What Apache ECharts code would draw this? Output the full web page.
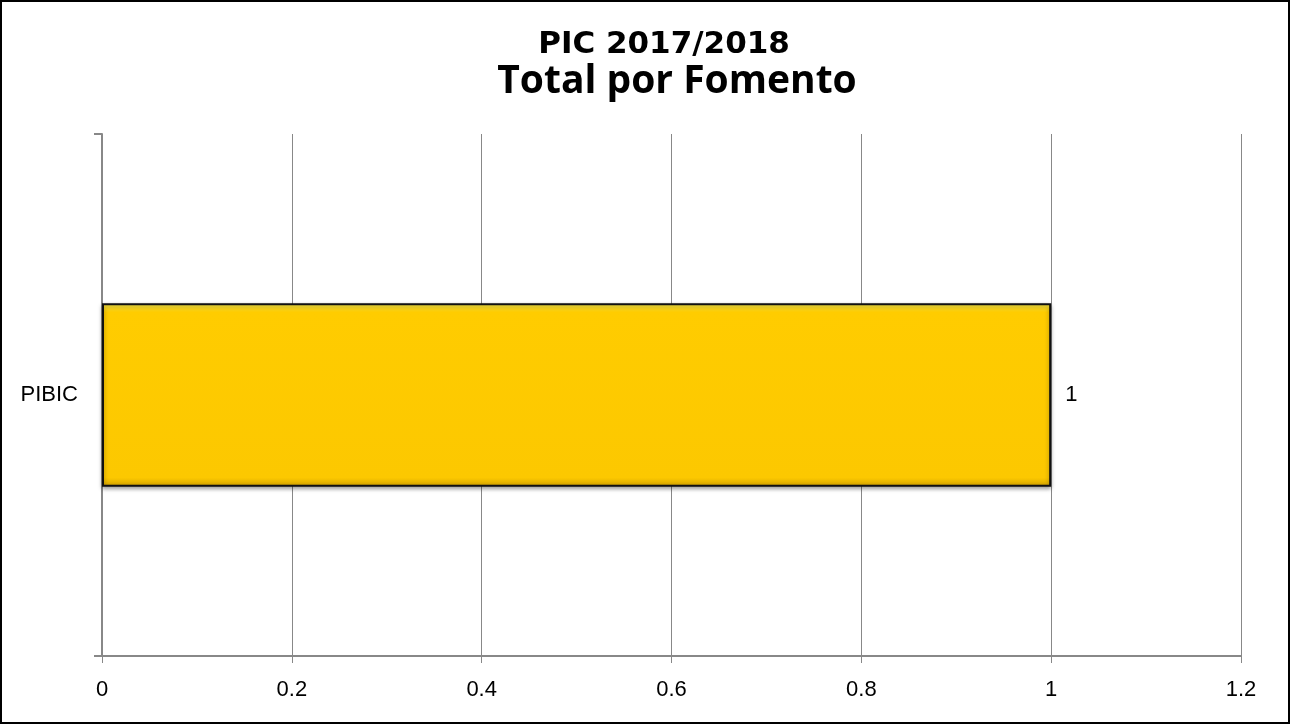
<!DOCTYPE html>
<html>
<head>
<meta charset="utf-8">
<script src="https://cdn.jsdelivr.net/npm/echarts@6/dist/echarts.min.js"></script>
<style>
  html, body { margin: 0; padding: 0; background: #fff; }
  #chart { width: 1290px; height: 724px; box-sizing: border-box; border: 2px solid #000; }
</style>
</head>
<body>
<div id="chart"></div>
<script>
// dados do gráfico
var categorias = ['PIBIC'];
var valores = [1];
var ticksX = [0, 0.2, 0.4, 0.6, 0.8, 1, 1.2];

var myChart = echarts.init(document.getElementById('chart'));

var option = {
  animation: false,
  title: [
    {
      text: 'PIC 2017/2018',
      left: 657,
      textAlign: 'center',
      top: 22,
      textStyle: { fontFamily: 'DejaVu Sans', fontSize: 31, fontWeight: 'bold', color: '#000' }
    },
    {
      text: 'Total por Fomento',
      left: 670,
      textAlign: 'center',
      top: 55,
      textStyle: { fontFamily: 'Open Sans', fontSize: 39, fontWeight: 'bold', color: '#000' }
    }
  ],
  grid: { left: 100, right: 47, top: 132, bottom: 66 },
  xAxis: {
    type: 'value',
    min: ticksX[0],
    max: ticksX[ticksX.length - 1],
    interval: 0.2,
    axisLine: { show: true, lineStyle: { color: '#888', width: 2 } },
    axisTick: { show: true, length: 7, lineStyle: { color: '#888' } },
    axisLabel: { color: '#000', fontFamily: 'Liberation Sans', fontSize: 22, margin: 23 },
    splitLine: { show: true, lineStyle: { color: '#888', width: 1 } }
  },
  yAxis: {
    type: 'category',
    data: categorias,
    axisLine: { show: true, lineStyle: { color: '#888', width: 2 } },
    axisTick: { show: true, length: 8, lineStyle: { color: '#888', width: 2 } },
    axisLabel: { color: '#000', fontFamily: 'Liberation Sans', fontSize: 22, margin: 24 }
  },
  series: [{
    type: 'bar',
    data: valores,
    barWidth: '35.2%',
    itemStyle: {
      color: new echarts.graphic.LinearGradient(0, 0, 0, 1, [
        { offset: 0, color: '#fff04d' },
        { offset: 0.05, color: '#ffcc00' },
        { offset: 0.95, color: '#fcc800' },
        { offset: 1, color: '#d4a300' }
      ]),
      borderColor: '#111',
      borderWidth: 2,
      shadowColor: 'rgba(0,0,0,0.35)',
      shadowBlur: 4,
      shadowOffsetY: 2
    },
    label: {
      show: true,
      position: 'right',
      distance: 14,
      color: '#000',
      fontFamily: 'Liberation Sans',
      fontSize: 22
    }
  }]
};

myChart.setOption(option);
</script>
</body>
</html>
